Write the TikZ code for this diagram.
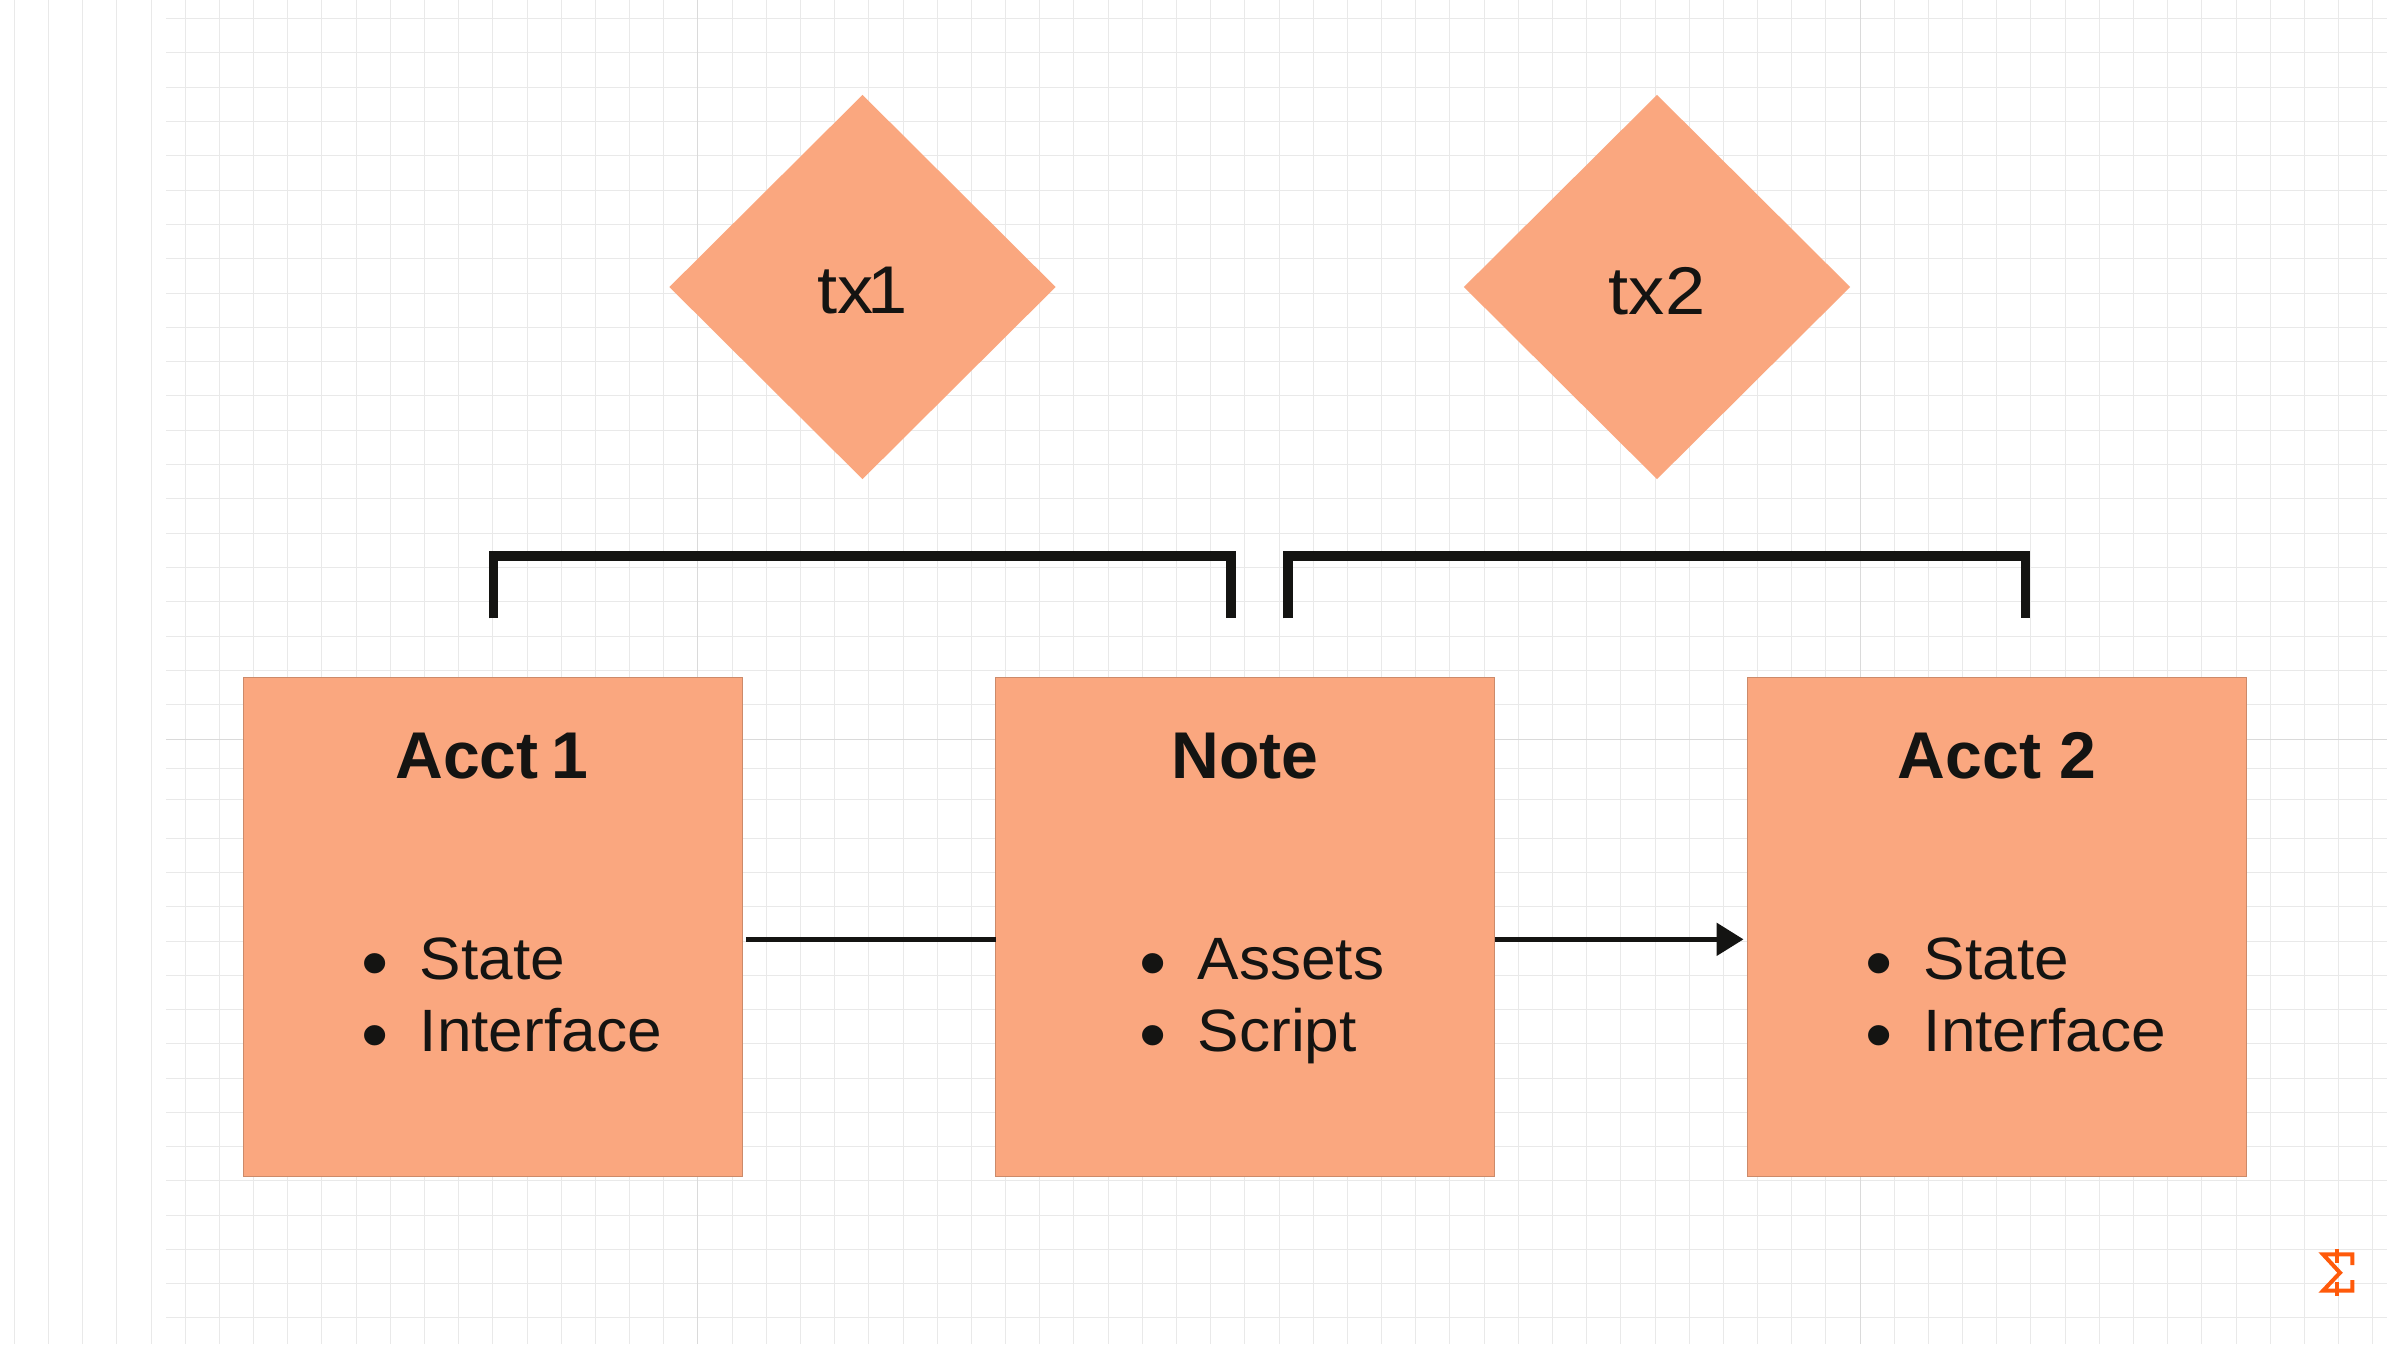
\documentclass[tikz,border=0pt]{standalone}
\usepackage{fontspec}
\usepackage{tikz}
\usetikzlibrary{shapes.geometric,arrows.meta}
\setmainfont{Liberation Sans}
\newfontfamily\itemfont[FakeStretch=1.04]{Liberation Sans}
\newfontfamily\txfont[FakeStretch=1.07]{Liberation Sans}
\definecolor{salmon}{HTML}{FAA77F}
\definecolor{salmonedge}{HTML}{CC8A6A}
\definecolor{ink}{HTML}{141412}
\definecolor{gridgray}{HTML}{E9E9E9}
\definecolor{gridmark}{HTML}{DADADA}
\definecolor{logoorange}{HTML}{FF5A0A}
\newcommand{\itemrow}[1]{\makebox[0.58cm][l]{\raisebox{-0.09cm}{\scalebox{1.25}{\textbullet}}}#1}
\newcommand{\txlabel}[1]{\raisebox{-0.035cm}[\height][0pt]{#1}}
\tikzset{acctbox/.style={
    rectangle,
    fill=salmon,
    draw=salmonedge,
    line width=0.01cm,
    inner sep=0pt,
    outer sep=0pt,
    minimum size=4.99cm},
  txdiamond/.style={
    diamond,
    fill=salmon,
    text=ink,
    inner sep=0pt,
    outer sep=0pt,
    aspect=1,
    minimum width=3.86cm,
    minimum height=3.84cm,
    font=\fontsize{19.2pt}{22pt}\selectfont\txfont},
  boxtitle/.style={
    anchor=base,
    inner sep=0pt,
    text=ink,
    font=\fontsize{18.8pt}{22pt}\selectfont\bfseries},
  boxitem/.style={
    anchor=base west,
    inner sep=0pt,
    text=ink,
    font=\fontsize{17pt}{20pt}\selectfont\itemfont},
  bracketline/.style={
    draw=ink,
    line width=0.093cm},
  flowline/.style={
    draw=ink,
    line width=0.053cm},
  gridline/.style={
    draw=gridgray,
    line width=0.009cm}}

\begin{document}
\begin{tikzpicture}[x=0.01cm,y=-0.01cm]
	\useasboundingbox (0,0) rectangle (2400,1344);
	\fill[white] (0,0) rectangle (2400,1344);

\foreach \i in {0,...,69}
	\draw[gridline] ({14.3+34.18*\i},0) -- ({14.3+34.18*\i},1344);
\foreach \j in {0,...,21}
	\draw[gridline] (166,{18.3+34.33*\j}) -- (2387,{18.3+34.33*\j});
\foreach \ypos in {768.3,799.3}
	\draw[gridline] (166,\ypos) -- (2387,\ypos);
\foreach \k in {0,...,14}
	\draw[gridline] (166,{838.3+34.25*\k}) -- (2387,{838.3+34.25*\k});
\draw[gridline,draw=gridmark] (697.9,0) -- (697.9,1344);
\draw[gridline,draw=gridmark] (1860,0) -- (1860,1344);
\draw[gridline,draw=gridmark] (166,739) -- (2387,739);

\coordinate (T1) at (862.5,287);
\coordinate (T2) at (1657,287);
\coordinate (A1) at (492.8,926.8);
\coordinate (N) at (1245.2,926.8);
\coordinate (A2) at (1996.9,926.8);

\node[txdiamond] (tx1) at (T1) {\txlabel{tx\kern-2pt{}1}};
\node[txdiamond] (tx2) at (T2) {\txlabel{tx2}};

\node[acctbox] (acct1) at (A1) {};
\node[acctbox] (note) at (N) {};
\node[acctbox] (acct2) at (A2) {};

\node[boxtitle] (acct1title) at (492,778.3) {Acct\kern-1.5pt{} 1};
\node[boxtitle] (notetitle) at (1245.2,778.3) {Note};
\node[boxtitle] (acct2title) at (1997,778.3) {Acct 2};

\node[boxitem] (acct1state) at (361,979) {\itemrow{State}};
\node[boxitem] (acct1iface) at (361,1051.7) {\itemrow{Interface}};
\node[boxitem] (noteassets) at (1139,979) {\itemrow{Assets}};
\node[boxitem] (notescript) at (1139,1051.7) {\itemrow{Script}};
\node[boxitem] (acct2state) at (1865,979) {\itemrow{State}};
\node[boxitem] (acct2iface) at (1865,1051.7) {\itemrow{Interface}};

\coordinate (lefta) at (493.5,618.3);
\coordinate (leftb) at (1231,618.3);
\coordinate (righta) at (1288,618.3);
\coordinate (rightb) at (2025.7,618.3);
\path[bracketline] (lefta) -- (493.5,555.85) -- (1231,555.85) -- (leftb);
\path[bracketline] (righta) -- (1288,555.85) -- (2025.7,555.85) -- (rightb);

\path[flowline,shorten <=0.035cm] ([yshift=-0.125cm]acct1.east) -- ([yshift=-0.125cm]note.west);
\path[flowline,shorten >=0.037cm,-{Triangle[length=0.27cm,width=0.32cm]},ink] ([yshift=-0.125cm]note.east) -- ([yshift=-0.125cm]acct2.west);

\path[draw=logoorange,line width=0.04cm] (2352.3,1265) -- (2352.3,1254.3) -- (2323,1254.3) -- (2340,1272.7) -- (2323,1290.7) -- (2352.3,1290.7) -- (2352.3,1280);
\path[draw=logoorange,line width=0.04cm] (2336.7,1249.3) -- (2336.7,1263);
\path[draw=logoorange,line width=0.04cm] (2336.7,1282) -- (2336.7,1296);
\end{tikzpicture}
\end{document}
